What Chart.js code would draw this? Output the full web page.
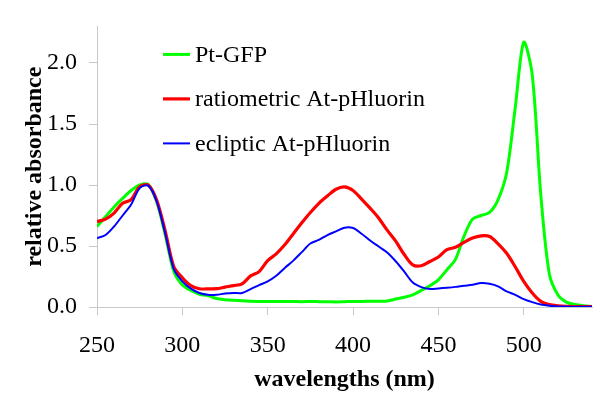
<!DOCTYPE html>
<html>
<head>
<meta charset="utf-8">
<title>Absorbance spectra</title>
<script src="https://cdn.jsdelivr.net/npm/chart.js@4.4.1/dist/chart.umd.min.js"></script>
<style>
  html, body { margin: 0; padding: 0; background: #fff; }
  #wrap { width: 600px; height: 402px; }
</style>
</head>
<body>
<div id="wrap"><canvas id="spectra" width="600" height="402"></canvas></div>
<script>
// wavelengths (nm), 5 nm steps
const wavelengths = [
  250, 255, 260, 265, 270, 275, 280, 285, 290, 295,
  300, 305, 310, 315, 320, 325, 330, 335, 340, 345,
  350, 355, 360, 365, 370, 375, 380, 385, 390, 395,
  400, 405, 410, 415, 420, 425, 430, 435, 440, 445,
  450, 455, 460, 465, 470, 475, 480, 485, 490, 495,
  500, 505, 510, 515, 520, 525, 530, 535, 540
];

const ptGfp = [
  0.66, 0.74, 0.82, 0.89, 0.955, 1.0, 1.005, 0.86, 0.59, 0.29,
  0.18, 0.135, 0.105, 0.093, 0.07, 0.06, 0.055, 0.052, 0.047, 0.046,
  0.046, 0.046, 0.046, 0.045, 0.044, 0.045, 0.044, 0.043, 0.042, 0.044,
  0.046, 0.046, 0.047, 0.048, 0.05, 0.065, 0.08, 0.1, 0.136, 0.174,
  0.223, 0.305, 0.39, 0.58, 0.72, 0.75, 0.775, 0.88, 1.1, 1.63,
  2.17, 1.9, 0.92, 0.27, 0.1, 0.04, 0.02, 0.01, 0.005
];

const ratiometric = [
  0.70, 0.72, 0.77, 0.85, 0.88, 0.985, 1.0, 0.875, 0.62, 0.33,
  0.24, 0.175, 0.15, 0.148, 0.15, 0.163, 0.175, 0.19, 0.255, 0.29,
  0.38, 0.436, 0.51, 0.6, 0.69, 0.775, 0.85, 0.91, 0.965, 0.985,
  0.955, 0.885, 0.81, 0.73, 0.63, 0.54, 0.43, 0.345, 0.338, 0.373,
  0.41, 0.47, 0.49, 0.53, 0.565, 0.583, 0.578, 0.518, 0.44, 0.33,
  0.21, 0.115, 0.046, 0.02, 0.01, 0.005, 0.004, 0.003, 0.003
];

const ecliptic = [
  0.565, 0.59, 0.66, 0.75, 0.84, 0.975, 0.995, 0.865, 0.6, 0.31,
  0.21, 0.15, 0.115, 0.1, 0.1, 0.11, 0.115, 0.115, 0.147, 0.18,
  0.21, 0.256, 0.32, 0.38, 0.45, 0.52, 0.55, 0.59, 0.62, 0.65,
  0.647, 0.6, 0.545, 0.496, 0.447, 0.375, 0.29, 0.2, 0.163, 0.147,
  0.152, 0.158, 0.165, 0.174, 0.182, 0.196, 0.19, 0.169, 0.128, 0.1,
  0.065, 0.04, 0.02, 0.01, 0.005, 0.003, 0.002, 0.002, 0.002
];

const seriesNames = ['Pt-GFP', 'ratiometric At-pHluorin', 'ecliptic At-pHluorin'];
const xTicks = [250, 300, 350, 400, 450, 500];
const yTicks = [0, 0.5, 1.0, 1.5, 2.0];

const serif = "'Liberation Serif', 'Times New Roman', serif";
const axisGray = '#c8c8c8';

function toPoints(values) {
  return wavelengths.map((w, i) => ({ x: w, y: values[i] }));
}

// legend drawn inside the plot, top left, in series order
const insideLegend = {
  id: 'insideLegend',
  afterDraw(chart) {
    const ctx = chart.ctx;
    const area = chart.chartArea;
    ctx.save();
    ctx.font = '24px ' + serif;
    ctx.textBaseline = 'middle';
    ctx.fillStyle = '#000';
    seriesNames.forEach((name, i) => {
      const ds = chart.data.datasets.find(d => d.label === name);
      const y = area.top + 28 + i * 44.5;
      const x = area.left + 66;
      ctx.strokeStyle = ds.borderColor;
      ctx.lineWidth = ds.borderWidth;
      ctx.beginPath();
      ctx.moveTo(x, y);
      ctx.lineTo(x + 27, y);
      ctx.stroke();
      ctx.fillText(name, x + 32, y + 1);
    });
    ctx.restore();
  }
};

new Chart(document.getElementById('spectra'), {
  type: 'line',
  data: {
    // first dataset is painted last (on top)
    datasets: [
      { label: seriesNames[2], data: toPoints(ecliptic), borderColor: '#0000ff', borderWidth: 2 },
      { label: seriesNames[1], data: toPoints(ratiometric), borderColor: '#ff0000', borderWidth: 3.2 },
      { label: seriesNames[0], data: toPoints(ptGfp), borderColor: '#00ff00', borderWidth: 3 }
    ]
  },
  options: {
    responsive: false,
    animation: false,
    layout: { padding: { top: 26, right: 8, left: 0, bottom: 0 } },
    elements: {
      point: { radius: 0 },
      line: { tension: 0.3, fill: false }
    },
    plugins: {
      legend: { display: false },
      tooltip: { enabled: false }
    },
    scales: {
      x: {
        type: 'linear',
        min: 250,
        max: 540,
        afterBuildTicks: s => { s.ticks = xTicks.map(v => ({ value: v })); },
        afterFit: s => { s.height = 95; },
        grid: { drawOnChartArea: false, drawTicks: true, tickLength: 8, color: axisGray },
        border: { display: true, color: axisGray, width: 1 },
        ticks: { color: '#000', padding: 16, maxRotation: 0, font: { family: serif, size: 24 } },
        title: {
          display: true,
          text: 'wavelengths (nm)',
          color: '#000',
          padding: { top: 0, bottom: 8 },
          font: { family: serif, size: 24, weight: 'bold' }
        }
      },
      y: {
        min: 0,
        max: 2.3,
        afterBuildTicks: s => { s.ticks = yTicks.map(v => ({ value: v })); },
        afterFit: s => { s.width = 97; },
        grid: { drawOnChartArea: false, drawTicks: true, tickLength: 8, color: axisGray },
        border: { display: true, color: axisGray, width: 1 },
        ticks: {
          color: '#000',
          padding: 12,
          callback: v => v.toFixed(1),
          font: { family: serif, size: 24 }
        },
        title: {
          display: true,
          text: 'relative absorbance',
          color: '#000',
          padding: { top: 20, bottom: 0 },
          font: { family: serif, size: 24, weight: 'bold' }
        }
      }
    }
  },
  plugins: [insideLegend]
});
</script>
</body>
</html>
